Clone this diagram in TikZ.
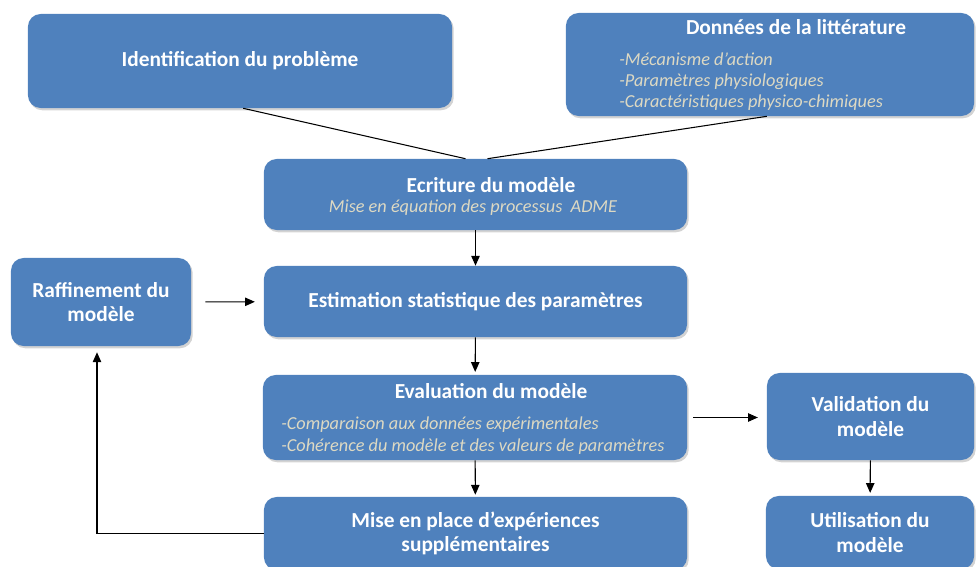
\documentclass[tikz,border=0pt]{standalone}
\usepackage{fontspec}
\setmainfont{Carlito}
\usetikzlibrary{shadows,arrows.meta}
\definecolor{boxblue}{HTML}{4F81BD}
\definecolor{notetan}{HTML}{DDD9C3}

\begin{document}
\begin{tikzpicture}[
        x=0.025cm,
        y=-0.025cm,
        box/.style={
            rectangle,
            rounded corners=9pt,
            fill=boxblue,
            draw=none,
            drop shadow={opacity=0.35, shadow xshift=1.2pt, shadow yshift=-1.6pt},
            inner sep=0pt,
            text=white,
            align=center,
            font=\fontsize{15.2}{17.2}\selectfont\bfseries
        },
        title/.style={
            text=white,
            align=center,
            inner sep=0pt,
            font=\fontsize{15.2}{17.2}\selectfont\bfseries
        },
        note/.style={
            text=notetan,
            align=left,
            inner sep=0pt,
            font=\fontsize{13}{15}\selectfont\itshape
        },
        link/.style={draw, line width=0.75pt, -{Triangle[length=7pt,width=6pt]}},
        line/.style={draw, line width=0.75pt}
    ]
    \useasboundingbox (0,0) rectangle (976,567);
    \clip (0,0) rectangle (976,567);

    % Top row
    \node[box, minimum width=10.6cm, minimum height=2.35cm] (ident) at (240,61) {Identification du problème};

    \node[box, minimum width=10.2cm, minimum height=2.575cm] (donnees) at (770,64.5) {};
    \node[title] (donnees-title) at (796,27) {Données de la littérature};
    \node[note, anchor=west] (donnees-list) at (619,82)
        {-Mécanisme d’action\\-Paramètres physiologiques\\-Caractéristiques physico-chimiques};

    % Main column
    \node[box, minimum width=10.575cm, minimum height=1.775cm] (ecriture) at (475.5,194.5) {};
    \node[title] (ecriture-title) at (491,185) {Ecriture du modèle};
    \node[note, align=center] (ecriture-sub) at (473,208) {Mise en équation des processus~ ADME};

    \node[box, minimum width=10.575cm, minimum height=1.775cm] (estimation) at (475.5,301.5) {Estimation statistique des paramètres};

    \node[box, minimum width=10.6cm, minimum height=2.125cm] (evaluation) at (475,417.5) {};
    \node[title] (evaluation-title) at (491,391) {Evaluation du modèle};
    \node[note, anchor=west, font=\fontsize{13}{15.6}\selectfont\itshape] (evaluation-list) at (281,436)
        {-Comparaison aux données expérimentales\\-Cohérence du modèle et des valeurs de paramètres};

    \node[box, minimum width=10.575cm, minimum height=1.825cm] (mise) at (475.5,533.5) {Mise en place d’expériences\\supplémentaires};

    % Side boxes
    \node[box, minimum width=4.5cm, minimum height=2.2cm] (raffinement) at (101,302) {Raffinement du\\modèle};
    \node[box, minimum width=5.175cm, minimum height=2.175cm] (validation) at (870.5,416.5) {Validation du\\modèle};
    \node[box, minimum width=5.2cm, minimum height=1.825cm] (utilisation) at (870,532.5) {Utilisation du\\modèle};

    % Connectors
    \draw[line] ([xshift=0.08cm]ident.south) -- ([xshift=-0.25cm]ecriture.north);
    \draw[line] ([xshift=-0.08cm]donnees.south) -- ([xshift=0.3cm]ecriture.north);
    \draw[link] (ecriture) -- (estimation);
    \draw[link, shorten <=0.35cm, shorten >=0.22cm] (raffinement) -- (estimation);
    \draw[link, shorten >=0.07cm] (estimation) -- (evaluation);
    \draw[link, shorten <=0.15cm, shorten >=0.22cm] (evaluation.east) -- (validation.west |- evaluation.east);
    \draw[link, shorten >=0.07cm] (validation) -- (utilisation);
    \draw[link, shorten >=0.05cm] (evaluation) -- (mise);
    \draw[link, shorten >=0.15cm] (mise.west) -| ([xshift=-0.1cm]raffinement.south);

\end{tikzpicture}
\end{document}
